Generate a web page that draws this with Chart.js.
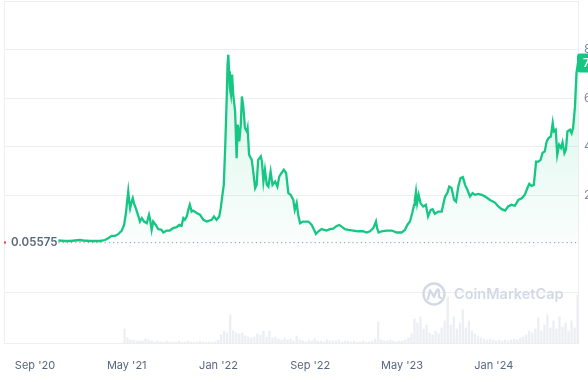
<!DOCTYPE html>
<html><head><meta charset="utf-8">
<script src="https://cdn.jsdelivr.net/npm/chart.js@4/dist/chart.umd.min.js"></script>
<style>html,body{margin:0;padding:0;background:#fff;overflow:hidden}#wrap{position:relative;width:588px;height:382px}</style>
</head><body><div id="wrap"><canvas id="c" width="588" height="382"></canvas></div>
<script>
// ---- data (days counted from 1 Sep 2020) ----
const priceDays = [62,79,93,119,128,146,172,185,194,203,212,221,230,236,241,244,247,250,252,256,259,262,267,274,278,283,289,296,302,305,309,313,320,326,335,340,349,357,366,375,382,388,393,397,402,406,410,415,419,428,437,446,455,468,474,481,488,492,497,500,504,508,510,512,514,516,519,522,525,530,534,537,541,545,548,552,556,561,563,567,574,578,583,587,591,598,601,605,609,614,618,624,629,636,642,647,653,659,665,671,677,684,688,693,697,702,710,724,733,739,744,750,759,772,781,790,799,806,812,821,830,843,856,869,878,887,896,903,906,910,918,931,945,958,971,980,986,993,999,1004,1006,1009,1012,1016,1021,1028,1035,1041,1048,1053,1059,1068,1077,1086,1092,1097,1103,1110,1115,1121,1127,1133,1139,1145,1152,1159,1165,1174,1183,1192,1205,1218,1227,1236,1245,1253,1262,1271,1280,1289,1297,1304,1309,1315,1321,1327,1333,1339,1344,1350,1355,1360,1366,1371,1374,1379,1383,1388,1393,1397,1402,1406,1410,1417,1421,1425,1430,1434,1438];
const priceValues = [0.14,0.12,0.12,0.16,0.14,0.12,0.12,0.16,0.235,0.33,0.33,0.41,0.55,0.78,1.27,1.74,2.16,1.68,1.47,1.74,1.88,1.68,1.47,1.13,0.92,1.06,0.92,0.85,1.20,0.99,0.58,0.92,0.78,0.61,0.58,0.47,0.55,0.55,0.65,0.69,0.78,0.74,1.06,0.99,1.13,1.40,1.61,1.33,1.37,1.27,1.20,0.99,0.92,0.99,1.13,0.99,1.13,1.47,2.09,2.43,4.08,6.14,7.38,7.79,7.11,6.42,6.14,6.97,6.14,5.46,3.53,4.91,4.22,4.91,6.07,5.60,4.77,4.63,4.77,3.67,3.46,2.98,2.30,2.43,3.46,3.60,3.39,2.57,3.05,2.43,2.36,2.98,2.43,2.57,2.36,2.78,2.92,3.05,2.92,2.09,2.02,1.81,1.40,1.68,1.20,0.85,0.92,0.92,0.78,0.58,0.41,0.51,0.61,0.55,0.61,0.63,0.74,0.78,0.71,0.61,0.58,0.55,0.52,0.52,0.47,0.52,0.65,0.92,0.65,0.47,0.52,0.55,0.55,0.47,0.47,0.58,0.78,0.92,1.27,1.61,1.81,2.16,1.68,2.02,1.68,1.54,1.61,1.13,1.40,1.43,1.24,1.33,1.33,1.95,2.09,2.36,2.30,1.81,1.74,2.36,2.71,2.75,2.43,2.23,1.95,2.09,2.02,2.06,2.02,1.95,1.81,1.70,1.54,1.43,1.37,1.54,1.61,1.57,1.81,1.88,2.02,2.30,2.47,2.39,2.43,3.39,3.39,3.46,3.74,3.81,4.22,4.36,4.42,4.98,4.63,4.70,3.67,4.08,3.95,4.18,3.74,3.88,4.63,4.70,4.56,4.77,5.66,7.04,7.45];
const startPrice = 0.05575;
const startPriceLabel = '0.05575';
const lastPriceLabel = '7.45';
const xTickDays = [0,243,486,729,972,1215];
const xTickLabels = ["Sep '20","May '21","Jan '22","Sep '22","May '23","Jan '24"];
const yTickValues = [8,6,4,2,-2];
const yTickLabels = ['8','6','4','2',''];
const volumeStartDay = 237;
const volumeStepDays = 8;
const volumeValues = [14,5,3,3,2,2,2,4,3,
 2,1,2,1,1,2,1,1,1,2,1,1,2,1,1,
 1,2,1,1,1,1,1,3,8,12,10,28,12,10,9,10,7,6,5,6,9,8,12,6,12,5,6,4,3,5,3,4,2,7,3,
 2,1,3,2,4,2,2,1,3,2,2,2,3,1,2,2,1,2,1,1,2,1,1,2,4,
 21,3,2,2,3,2,1,2,2,3,5,9,24,20,26,14,18,10,8,12,9,15,22,46,18,26,14,20,33,15,22,12,9,7,5,4,3,4,3,2,3,2,3,2,3,4,3,5,6,8,12,10,14,25,12,18,28,15,22,14,26,16,20,12,22,15,48];

const GREEN = '#16c784';
const priceData = priceDays.map((d,i)=>({x:d,y:priceValues[i]}));
const volumeData = volumeValues.map((v,i)=>({x:volumeStartDay+i*volumeStepDays,y:v}));
const refData = [{x:priceDays[0],y:startPrice},{x:priceDays[priceDays.length-1],y:startPrice}];

const framePlugin = {
  id:'frame',
  beforeDatasetsDraw(chart){
    const {ctx, chartArea:a} = chart;
    ctx.save();
    ctx.strokeStyle = '#eceef1';
    ctx.lineWidth = 1;
    ctx.strokeRect(Math.round(a.left)+0.5, Math.round(a.top)+0.5, Math.round(a.right-a.left), Math.round(a.bottom-a.top));
    // watermark
    const cx = a.right - 144, cy = a.bottom - 49;
    ctx.strokeStyle = '#d3d9e4';
    ctx.lineWidth = 2.4;
    ctx.beginPath(); ctx.arc(cx, cy, 10.5, 0, Math.PI*2); ctx.stroke();
    ctx.lineWidth = 2.2; ctx.lineJoin='round'; ctx.lineCap='round';
    ctx.beginPath();
    ctx.moveTo(cx-6, cy+5); ctx.lineTo(cx-4, cy-4); ctx.lineTo(cx, cy+3); ctx.lineTo(cx+3, cy-4);
    ctx.quadraticCurveTo(cx+5, cy-6, cx+5, cy-2); ctx.lineTo(cx+5, cy+3); ctx.lineTo(cx+7, cy+4);
    ctx.stroke();
    ctx.fillStyle = '#d3d9e4';
    ctx.font = '600 14.5px Inter';
    ctx.textBaseline = 'middle'; ctx.textAlign = 'left';
    ctx.fillText('CoinMarketCap', cx + 20, cy + 1);
    ctx.restore();
  },
  afterDatasetsDraw(chart){
    const {ctx, chartArea:a, scales} = chart;
    const y0 = scales.y.getPixelForValue(startPrice);
    ctx.save();
    ctx.fillStyle = '#ea3943';
    ctx.fillRect(a.left, y0-1, 2, 2);
    ctx.fillStyle = '#58667e';
    ctx.font = '600 11.5px Inter';
    ctx.textBaseline = 'middle'; ctx.textAlign = 'left';
    ctx.fillText(startPriceLabel, a.left + 7, y0 + 0.5);
    // last price tag
    const yl = scales.y.getPixelForValue(priceValues[priceValues.length-1]);
    ctx.fillStyle = GREEN;
    const bx = a.right - 1, bh = 19;
    ctx.beginPath();
    ctx.roundRect(bx, yl - bh/2, 60, bh, 3);
    ctx.fill();
    ctx.fillStyle = '#ffffff';
    ctx.font = '600 12px Inter';
    ctx.fillText(lastPriceLabel, bx + 6, yl);
    ctx.restore();
  }
};

new Chart(document.getElementById('c'), {
  data:{
    datasets:[
      {type:'line', data:priceData, borderColor:GREEN, borderWidth:2.3, pointRadius:0, tension:0, order:1,
       fill:{value:startPrice},
       backgroundColor:(c)=>{
         const ch=c.chart, a=ch.chartArea; if(!a) return 'rgba(22,199,132,0.1)';
         const g=ch.ctx.createLinearGradient(0,ch.scales.y.getPixelForValue(8),0,ch.scales.y.getPixelForValue(0));
         g.addColorStop(0,'rgba(22,199,132,0.18)'); g.addColorStop(1,'rgba(22,199,132,0.02)'); return g;
       }},
      {type:'line', data:refData, borderColor:'#a3abb9', borderWidth:1.2, borderDash:[1.2,3], pointRadius:0, fill:false, order:2},
      {type:'bar', data:volumeData, yAxisID:'yv', backgroundColor:'#eceef3', barThickness:1.6, order:3}
    ]
  },
  options:{
    responsive:false, animation:false, devicePixelRatio:1,
    layout:{padding:{left:4, top:1, right:0, bottom:0}},
    plugins:{legend:{display:false}, tooltip:{enabled:false}},
    scales:{
      x:{type:'linear', min:-82, max:1438, offset:false,
         grid:{display:false, drawTicks:false}, border:{display:false},
         afterBuildTicks:(s)=>{ s.ticks = xTickDays.map(v=>({value:v})); },
         afterFit:(s)=>{ s.height = 39; s.paddingLeft = 0; s.paddingRight = 0; },
         ticks:{autoSkip:false, maxRotation:0, padding:16, color:'#58667e', font:{family:'Inter', size:11},
                callback:(v)=>{ const i=xTickDays.indexOf(v); return i>=0?xTickLabels[i]:''; }}},
      y:{type:'linear', position:'right', min:-4.08, max:10,
         grid:{color:(c)=> c.tick && c.tick.value===0 ? 'rgba(0,0,0,0)' : '#eceef1', drawTicks:false}, border:{display:false},
         afterBuildTicks:(s)=>{ s.ticks = yTickValues.map(v=>({value:v})); },
         afterFit:(s)=>{ s.width = 10; s.paddingTop = 0; s.paddingBottom = 0; },
         ticks:{padding:6, color:'#808a9d', font:{family:'Inter', size:12},
                callback:(v)=>{ const i=yTickValues.indexOf(v); return i>=0?yTickLabels[i]:''; }}},
      yv:{type:'linear', display:false, min:0, max:341}
    }
  },
  plugins:[framePlugin]
});
</script></body></html>
